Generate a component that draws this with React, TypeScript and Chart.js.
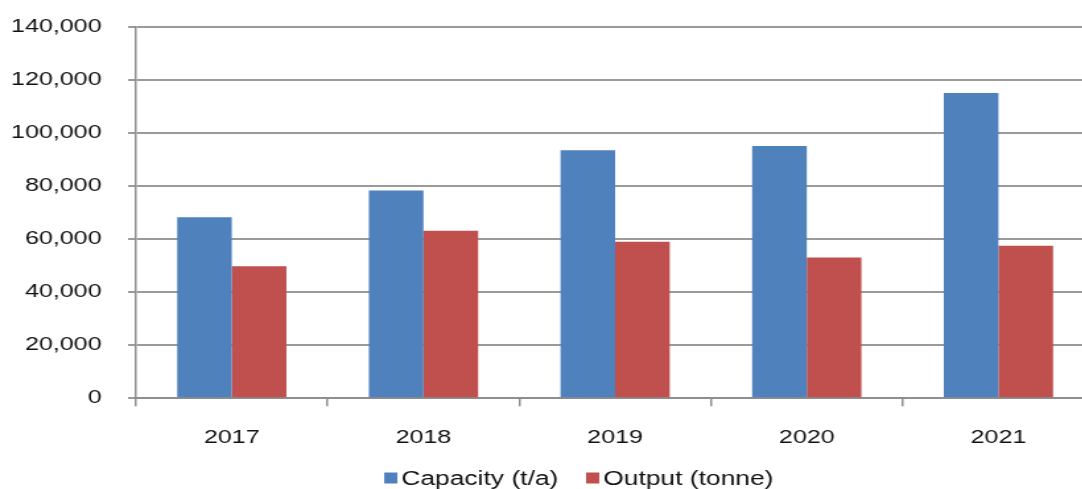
import React, { useEffect, useRef } from "react";
import { Chart, registerables } from "chart.js";

Chart.register(...registerables);

const categories = ["2017", "2018", "2019", "2020", "2021"];
const capacityValues = [68200, 78300, 93500, 95100, 115100];
const outputValues = [49800, 63200, 59000, 53100, 57500];
const seriesLabels = ["Capacity (t/a)", "Output (tonne)"];
const seriesColors = ["#4F81BD", "#C0504D"];
const yTicks = { min: 0, max: 140000, step: 20000 };

const STRETCH = 1.32;
const LOGICAL_W = 877;
const LOGICAL_H = 489;
const FONT = "'Liberation Sans', Arial, sans-serif";
const FONT_SIZE = 19;

const legendPlugin = {
  id: "customLegend",
  afterDraw(chart: any) {
    const ctx = chart.ctx as CanvasRenderingContext2D;
    const ds = chart.data.datasets;
    ctx.save();
    ctx.font = `20px ${FONT}`;
    ctx.textBaseline = "middle";
    ctx.textAlign = "left";
    const boxW = 10;
    const boxH = 11;
    const gapText = 3;
    const gapItem = 21;
    const widths = ds.map((d: any) => boxW + gapText + ctx.measureText(d.label).width);
    const total = widths.reduce((a: number, b: number) => a + b, 0) + gapItem * (ds.length - 1);
    let x = chart.width / 2 - total / 2;
    const yc = 478;
    ds.forEach((d: any, i: number) => {
      ctx.fillStyle = d.backgroundColor;
      ctx.fillRect(x, yc - boxH / 2, boxW, boxH);
      ctx.fillStyle = "#111";
      ctx.fillText(d.label, x + boxW + gapText, yc + 1);
      x += widths[i] + gapItem;
    });
    ctx.restore();
  },
};

export default function App() {
  const canvasRef = useRef<HTMLCanvasElement | null>(null);

  useEffect(() => {
    if (!canvasRef.current) return;
    const chart = new Chart(canvasRef.current, {
      type: "bar",
      data: {
        labels: categories,
        datasets: [
          {
            label: seriesLabels[0],
            data: capacityValues,
            backgroundColor: seriesColors[0],
            barPercentage: 1,
            categoryPercentage: 0.57,
          },
          {
            label: seriesLabels[1],
            data: outputValues,
            backgroundColor: seriesColors[1],
            barPercentage: 1,
            categoryPercentage: 0.57,
          },
        ],
      },
      options: {
        responsive: false,
        animation: false,
        devicePixelRatio: 1,
        layout: { padding: { left: 9, right: 48, top: 27, bottom: 20 } },
        plugins: {
          legend: { display: false },
          tooltip: { enabled: false },
        },
        scales: {
          x: {
            grid: {
              display: true,
              drawOnChartArea: false,
              drawTicks: true,
              tickLength: 8,
              color: "#8e8e8e",
              lineWidth: 1.5,
              offset: true,
            },
            border: { display: true, color: "#8e8e8e", width: 2 },
            ticks: {
              color: "#111",
              font: { family: FONT, size: FONT_SIZE },
              padding: 20,
            },
          },
          y: {
            min: yTicks.min,
            max: yTicks.max,
            afterFit: (scale: any) => {
              scale.width = 94;
              scale.paddingTop = 0;
              scale.paddingBottom = 0;
            },
            grid: {
              color: "#9a9a9a",
              lineWidth: 2,
              drawTicks: true,
              tickLength: 6,
            },
            border: { display: true, color: "#8e8e8e", width: 1.5 },
            ticks: {
              stepSize: yTicks.step,
              color: "#111",
              font: { family: FONT, size: FONT_SIZE },
              padding: 20,
              callback: (v: any) => Number(v).toLocaleString("en-US"),
            },
          },
        },
      },
      plugins: [legendPlugin],
    });
    return () => chart.destroy();
  }, []);

  return (
    <div
      style={{
        position: "fixed",
        left: 0,
        top: 0,
        width: 1082,
        height: 489,
        overflow: "hidden",
        background: "#fff",
      }}
    >
      <div
        style={{
          width: LOGICAL_W,
          height: LOGICAL_H,
          transform: `scaleX(${STRETCH})`,
          transformOrigin: "0 0",
        }}
      >
        <canvas ref={canvasRef} width={LOGICAL_W} height={LOGICAL_H} />
      </div>
    </div>
  );
}
